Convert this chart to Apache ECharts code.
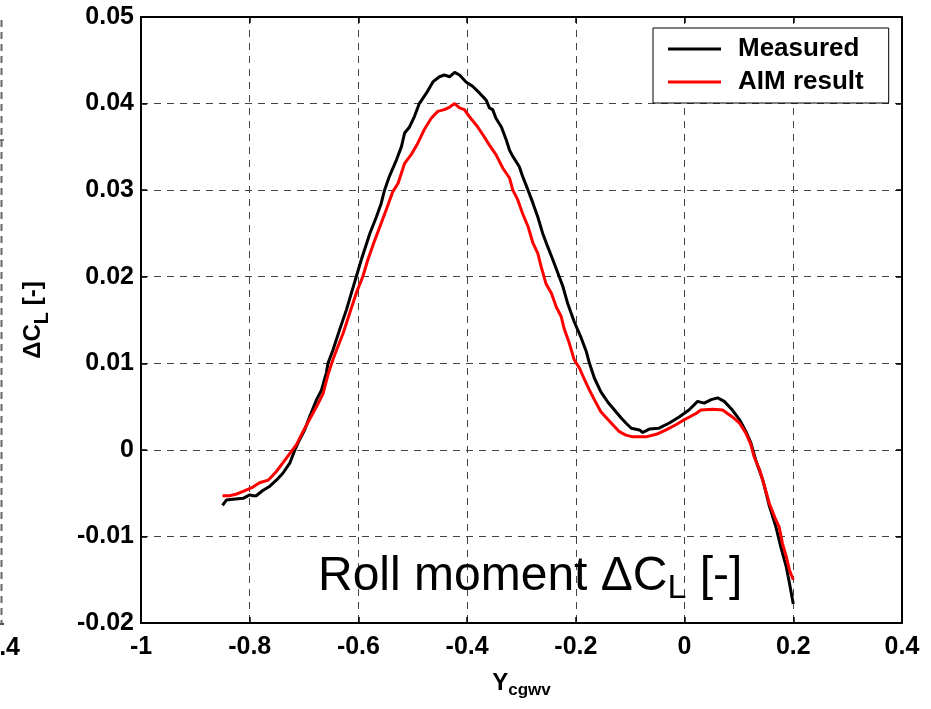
<!DOCTYPE html>
<html>
<head>
<meta charset="utf-8">
<title>Roll moment ΔC_L</title>
<script src="https://cdn.jsdelivr.net/npm/echarts@6/dist/echarts.min.js"></script>
<style>
  html, body { margin: 0; padding: 0; background: #ffffff; }
  #chart { width: 931px; height: 709px; }
</style>
</head>
<body>
<div id="chart"></div>
<script>
// Lateral position Y_cgwv and roll-moment increment ΔC_L
const measuredX = [
  -0.850, -0.843, -0.831, -0.812, -0.800, -0.794, -0.788, -0.776, -0.763, -0.751,
  -0.739, -0.726, -0.717, -0.708, -0.699, -0.690, -0.677, -0.668, -0.659, -0.656,
  -0.647, -0.635, -0.622, -0.604,
  -0.595, -0.579, -0.567, -0.558, -0.552, -0.543, -0.530, -0.521, -0.515, -0.506,
  -0.497, -0.488, -0.475, -0.463, -0.451, -0.442, -0.432, -0.423, -0.414, -0.402,
  -0.390, -0.377, -0.365, -0.359, -0.353, -0.347, -0.337, -0.328, -0.322, -0.316,
  -0.310, -0.304,
  -0.298, -0.288, -0.279, -0.270, -0.261, -0.252, -0.242, -0.233, -0.224, -0.215,
  -0.203, -0.190, -0.181, -0.175, -0.166, -0.154, -0.141, -0.129, -0.117, -0.108,
  -0.098, -0.083,
  -0.077, -0.065, -0.047, -0.028, -0.010, 0.008, 0.024, 0.036, 0.049, 0.061,
  0.073, 0.088, 0.101, 0.113, 0.122, 0.131, 0.144, 0.156, 0.168, 0.177,
  0.187, 0.193, 0.200
];
const measuredY = [
  -0.0064, -0.0058, -0.0057, -0.0056, -0.0052, -0.0053, -0.0053, -0.0047, -0.0042, -0.0035,
  -0.0027, -0.0015, 0.0000, 0.0012, 0.0023, 0.0038, 0.0058, 0.0069, 0.0089, 0.0100,
  0.0115, 0.0138, 0.0162, 0.0200,
  0.0219, 0.0250, 0.0269, 0.0285, 0.0300, 0.0316, 0.0335, 0.0350, 0.0366, 0.0373,
  0.0385, 0.0400, 0.0412, 0.0425, 0.0431, 0.0433, 0.0431, 0.0436, 0.0433, 0.0425,
  0.0420, 0.0412, 0.0404, 0.0395, 0.0393, 0.0383, 0.0373, 0.0358, 0.0346, 0.0339,
  0.0333, 0.0327,
  0.0316, 0.0300, 0.0285, 0.0269, 0.0250, 0.0235, 0.0219, 0.0204, 0.0189, 0.0169,
  0.0148, 0.0129, 0.0114, 0.0100, 0.0083, 0.0067, 0.0055, 0.0046, 0.0037, 0.0031,
  0.0025, 0.0023,
  0.0020, 0.0024, 0.0025, 0.0031, 0.0038, 0.0046, 0.0056, 0.0054, 0.0058, 0.0060,
  0.0056, 0.0046, 0.0035, 0.0021, 0.0008, -0.0012, -0.0035, -0.0065, -0.0089, -0.0112,
  -0.0135, -0.0154, -0.0178
];
const aimX = [
  -0.850, -0.837, -0.824, -0.812, -0.794, -0.782, -0.766, -0.751, -0.739, -0.726,
  -0.714, -0.702, -0.690, -0.677, -0.665, -0.656, -0.647, -0.638, -0.628, -0.616,
  -0.604, -0.592,
  -0.583, -0.570, -0.558, -0.549, -0.537, -0.527, -0.515, -0.503, -0.491, -0.478,
  -0.466, -0.454, -0.442, -0.432, -0.423, -0.414, -0.405, -0.396, -0.383, -0.371,
  -0.359, -0.347, -0.334, -0.322,
  -0.316, -0.307, -0.298, -0.288, -0.279, -0.270, -0.264, -0.255, -0.245, -0.236,
  -0.227, -0.221, -0.212, -0.203, -0.193, -0.184, -0.175, -0.166, -0.154, -0.141,
  -0.129, -0.120, -0.108, -0.095, -0.083,
  -0.071, -0.052, -0.034, -0.016, -0.003, 0.009, 0.021, 0.030, 0.052, 0.070,
  0.088, 0.101, 0.113, 0.122, 0.128, 0.138, 0.147, 0.156, 0.168, 0.174,
  0.180, 0.187, 0.193, 0.200
];
const aimY = [
  -0.0053, -0.0053, -0.0051, -0.0048, -0.0043, -0.0038, -0.0035, -0.0025, -0.0015, -0.0004,
  0.0006, 0.0021, 0.0035, 0.0050, 0.0065, 0.0087, 0.0104, 0.0119, 0.0135, 0.0158,
  0.0181, 0.0200,
  0.0219, 0.0242, 0.0262, 0.0277, 0.0298, 0.0308, 0.0331, 0.0341, 0.0354, 0.0371,
  0.0383, 0.0391, 0.0393, 0.0396, 0.0400, 0.0395, 0.0393, 0.0385, 0.0375, 0.0364,
  0.0352, 0.0341, 0.0325, 0.0314,
  0.0300, 0.0289, 0.0273, 0.0258, 0.0239, 0.0227, 0.0212, 0.0192, 0.0181, 0.0165,
  0.0154, 0.0139, 0.0123, 0.0104, 0.0094, 0.0081, 0.0069, 0.0058, 0.0044, 0.0035,
  0.0027, 0.0021, 0.0017, 0.0015, 0.0015,
  0.0015, 0.0018, 0.0023, 0.0029, 0.0034, 0.0038, 0.0042, 0.0046, 0.0047, 0.0046,
  0.0038, 0.0031, 0.0019, 0.0006, -0.0008, -0.0023, -0.0042, -0.0062, -0.0081, -0.0089,
  -0.0108, -0.0123, -0.0139, -0.0150
];
const seriesNames = ['Measured', 'AIM result'];
const xRange = { min: -1, max: 0.4, step: 0.2 };
const yRange = { min: -0.02, max: 0.05, step: 0.01 };

const FONT = '"Liberation Sans", Arial, Helvetica, sans-serif';
const pairs = (xs, ys) => xs.map((x, i) => [x, ys[i]]);

const gridDash = {
  show: true,
  lineStyle: { color: '#444', width: 1, type: [7, 6] }
};
const frameLine = { show: true, onZero: false, lineStyle: { color: '#000', width: 2 } };
const innerTick = { show: true, inside: true, length: 6, lineStyle: { color: '#000', width: 1.5 } };

const chart = echarts.init(document.getElementById('chart'), null, { renderer: 'canvas' });

chart.setOption({
  animation: false,
  backgroundColor: '#ffffff',
  grid: { left: 141, right: 29, top: 17, bottom: 86, containLabel: false },
  xAxis: [
    {
      type: 'value', position: 'bottom',
      min: xRange.min, max: xRange.max, interval: xRange.step,
      axisLine: frameLine, axisTick: innerTick, splitLine: gridDash,
      axisLabel: {
        color: '#000', fontFamily: FONT, fontWeight: 'bold', fontSize: 25, margin: 12
      },
      name: '{m|Y}{s|cgwv}',
      nameLocation: 'middle', nameGap: 45,
      nameTextStyle: {
        rich: {
          m: { fontFamily: FONT, fontWeight: 'bold', fontSize: 24, color: '#000' },
          s: { fontFamily: FONT, fontWeight: 'bold', fontSize: 17, color: '#000', padding: [14, 0, 0, 0] }
        }
      }
    },
    {
      type: 'value', position: 'top',
      min: xRange.min, max: xRange.max, interval: xRange.step,
      axisLine: frameLine, axisTick: innerTick, splitLine: { show: false },
      axisLabel: { show: false }
    }
  ],
  yAxis: [
    {
      type: 'value', position: 'left',
      min: yRange.min, max: yRange.max, interval: yRange.step,
      axisLine: frameLine, axisTick: innerTick, splitLine: gridDash,
      axisLabel: {
        color: '#000', fontFamily: FONT, fontWeight: 'bold', fontSize: 25, margin: 7
      },
      name: '{m|ΔC}{s|L}{m| [-]}',
      nameLocation: 'middle', nameGap: 89,
      nameTextStyle: {
        rich: {
          m: { fontFamily: FONT, fontWeight: 'bold', fontSize: 24, color: '#000' },
          s: { fontFamily: FONT, fontWeight: 'bold', fontSize: 20, color: '#000', padding: [18, 0, 0, 0] }
        }
      }
    },
    {
      type: 'value', position: 'right',
      min: yRange.min, max: yRange.max, interval: yRange.step,
      axisLine: frameLine, axisTick: innerTick, splitLine: { show: false },
      axisLabel: { show: false }
    }
  ],
  legend: {
    left: 653, top: 28,
    orient: 'vertical',
    data: seriesNames,
    icon: 'rect',
    backgroundColor: '#ffffff',
    borderColor: '#000', borderWidth: 1, borderRadius: 0,
    padding: [7, 25, 7, 15],
    itemGap: 5,
    itemWidth: 53, itemHeight: 3,
    textStyle: {
      color: '#000', fontFamily: FONT, fontWeight: 'bold', fontSize: 26,
      lineHeight: 28, padding: [0, 0, 0, 12]
    }
  },
  series: [
    {
      name: seriesNames[0], type: 'line', xAxisIndex: 0, yAxisIndex: 0,
      data: pairs(measuredX, measuredY),
      symbol: 'none', smooth: false, z: 3,
      lineStyle: { color: '#000000', width: 3 },
      itemStyle: { color: '#000000' }
    },
    {
      name: seriesNames[1], type: 'line', xAxisIndex: 0, yAxisIndex: 0,
      data: pairs(aimX, aimY),
      symbol: 'none', smooth: false, z: 4,
      lineStyle: { color: '#ff0000', width: 3 },
      itemStyle: { color: '#ff0000' }
    }
  ],
  graphic: [
    // in-plot caption
    {
      type: 'text', left: 318, top: 553, z: 10,
      style: {
        text: '{m|Roll moment ΔC}{s|L}{m| [-]}',
        rich: {
          m: { fontFamily: FONT, fontSize: 48, fill: '#000' },
          s: { fontFamily: FONT, fontSize: 34, fill: '#000', padding: [24, 0, 0, 0] }
        }
      }
    },
    // right edge of the neighbouring panel
    {
      type: 'line', z: 1,
      shape: { x1: 1.5, y1: 20, x2: 1.5, y2: 625 },
      style: { stroke: '#666', lineWidth: 2, lineDash: [7, 5] }
    },
    { type: 'line', shape: { x1: 0, y1: 140, x2: 4, y2: 140 }, style: { stroke: '#000', lineWidth: 1 } },
    { type: 'line', shape: { x1: 0, y1: 624, x2: 4, y2: 624 }, style: { stroke: '#000', lineWidth: 1.5 } },
    {
      type: 'text', right: 911, top: 636,
      style: { text: '0.4', fontFamily: FONT, fontWeight: 'bold', fontSize: 25, fill: '#000' }
    }
  ]
});
</script>
</body>
</html>
